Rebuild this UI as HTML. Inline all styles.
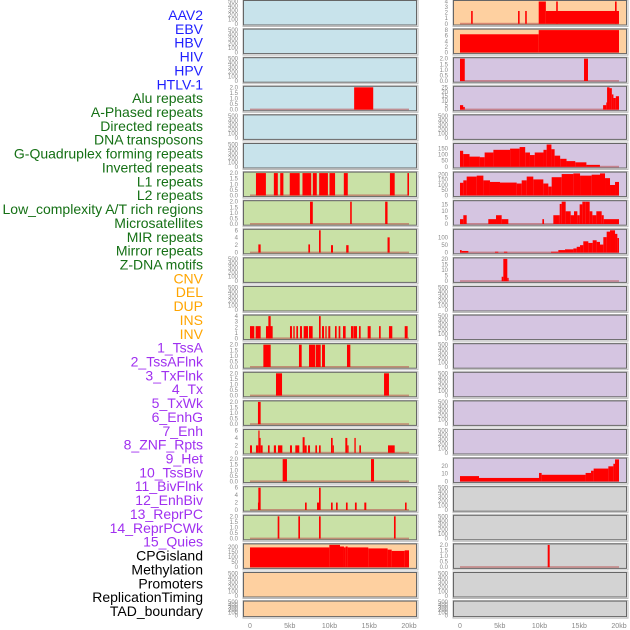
<!DOCTYPE html>
<html><head><meta charset="utf-8"><style>
html,body{margin:0;padding:0;background:#fff;width:630px;height:630px;overflow:hidden}
svg{display:block;font-family:"Liberation Sans",sans-serif}
</style></head><body>
<svg id="chart" width="630" height="630" viewBox="0 0 630 630" xmlns="http://www.w3.org/2000/svg"></svg>
<script>
// ---- data ----
const labels = ["AAV2","EBV","HBV","HIV","HPV","HTLV-1","Alu repeats","A-Phased repeats","Directed repeats","DNA transposons","G-Quadruplex forming repeats","Inverted repeats","L1 repeats","L2 repeats","Low_complexity A/T rich regions","Microsatellites","MIR repeats","Mirror repeats","Z-DNA motifs","CNV","DEL","DUP","INS","INV","1_TssA","2_TssAFlnk","3_TxFlnk","4_Tx","5_TxWk","6_EnhG","7_Enh","8_ZNF_Rpts","9_Het","10_TssBiv","11_BivFlnk","12_EnhBiv","13_ReprPC","14_ReprPCWk","15_Quies","CPGisland","Methylation","Promoters","ReplicationTiming","TAD_boundary"];
const labelGroups = [6,13,5,15,5];
const groupColors = ["#1f1fff","#157015","#ffa500","#a030f0","#000000"];
const xTicks = [0,5,10,15,20];
const xTickLabels = ["0","5kb","10kb","15kb","20kb"];
// panel background per row
const leftBg = ["b","b","b","b","b","b","g","g","g","g","g","g","g","g","g","g","g","g","g","o","o","o"];
const rightBg = ["o","o","p","p","p","p","p","p","p","p","p","p","p","p","p","p","p","x","x","x","x","x"];
// y limits per row
const leftYmax = [500,500,500,2,500,500,2,2,6,500,500,4,2,2,2,6,2,6,2,222,500,500];
const rightYmax = [4,8,2,25,500,184,212,17,150,20,500,500,500,500,500,500,29,500,500,2,500,500];
// tick label sets
const ticks500 = ["0","100","200","300","400","500"];
const ticks2 = ["0.0","0.5","1.0","1.5","2.0"];
const ticks4 = ["0","1","2","3","4"];
const ticks6 = ["0","2","4","6"];
const ticks8 = ["0","2","4","6","8"];
const ticks25 = ["0","5","10","15","20","25"];
const ticks150 = ["0","50","100","150"];
const ticks200 = ["0","50","100","150","200"];
const ticks15 = ["0","5","10","15"];
const ticks100 = ["0","50","100"];
const ticks20 = ["0","5","10","15","20"];
const ticks20b = ["0","10","20"];
const leftTicks = [ticks500,ticks500,ticks500,ticks2,ticks500,ticks500,ticks2,ticks2,ticks6,ticks500,ticks500,ticks4,ticks2,ticks2,ticks2,ticks6,ticks2,ticks6,ticks2,ticks200,ticks500,ticks500];
const rightTicks = [ticks4,ticks8,ticks2,ticks25,ticks500,ticks150,ticks200,ticks15,ticks100,ticks20,ticks500,ticks500,ticks500,ticks500,ticks500,ticks500,ticks20b,ticks500,ticks500,ticks2,ticks500,ticks500];
// segments: [startKb, endKb, value]
const left3 = [[13.1,15.5,2]];
const left6 = [[0.75,2.0,2],[3.0,3.5,2],[3.8,4.2,2],[5.0,6.25,2],[6.6,7.7,2],[7.9,8.4,2],[8.7,9.8,2],[10.0,10.7,2],[11.8,12.3,2],[17.6,18.2,2],[19.8,20.0,2]];
const left7 = [[7.55,7.9,2],[12.6,12.8,2],[17.0,17.3,2]];
const left8 = [[1.05,1.34,2.2],[7.34,7.55,2.2],[8.68,8.89,6],[10.19,10.44,2],[12.1,12.4,2],[17.3,17.57,4.1]];
const left11 = [[0,0.54,2.2],[0.71,1.34,2.2],[2.01,2.85,2.2],[2.31,2.6,4],[5.03,5.28,2.2],[5.45,5.62,2.2],[5.83,6.04,2.2],[6.29,6.54,2.2],[6.75,7.3,2.2],[7.42,7.88,2.2],[8.68,8.89,4],[9.06,9.31,2.2],[9.48,9.64,2.2],[9.85,10.1,2.2],[10.69,10.9,2.2],[11.15,11.36,2.2],[11.7,12.03,2.2],[12.7,13.0,2.2],[13.04,13.46,2.2],[13.71,13.92,2.2],[14.8,15.18,2.2],[16.23,16.44,2.2],[17.48,17.9,2.2],[19.46,19.83,2.2]];
const left12 = [[1.68,2.6,2],[6.16,6.5,2],[7.42,8.18,2],[8.26,8.89,2],[9.06,9.43,2],[12.2,12.62,2]];
const left13 = [[3.27,4.03,2],[16.86,17.48,2]];
const left14 = [[1.0,1.34,2]];
const left15 = [[0,0.25,2],[0.75,1.05,2],[1.05,1.17,6],[1.17,1.34,4],[1.34,1.59,2],[2.26,2.47,2],[3.0,3.27,2],[3.52,4.07,2],[5.03,5.28,2],[5.7,6.2,2],[6.62,6.87,4.2],[6.87,7.13,2],[7.3,7.55,2],[8.22,8.43,2],[8.68,8.89,2],[10.19,10.4,4],[10.4,10.52,2],[11.99,12.24,4],[12.24,12.4,2],[13.13,13.3,4],[13.75,13.96,2],[17.36,18.2,2]];
const left16 = [[4.11,4.65,2],[15.22,15.6,2]];
const left17 = [[1.0,1.05,2],[1.05,1.34,6],[6.92,7.13,2],[8.43,8.68,2],[8.68,8.89,6],[10.19,10.4,2],[10.82,11.03,2],[12.07,12.28,2],[13.2,13.42,2],[14.38,14.63,2],[19.5,19.7,2]];
const left18 = [[3.48,3.69,2],[6.08,6.29,2],[8.68,8.89,2],[18.11,18.32,2]];
const left19 = [[0,9.98,197],[9.98,11.32,222],[11.32,11.82,206],[11.82,12.03,197],[12.03,12.28,206],[12.28,14.88,197],[14.88,17.31,187],[17.31,17.82,175],[17.82,19.46,162],[19.46,20,168]];
const right0 = [[1.4,1.6,2.3],[7.3,7.5,2.3],[8.2,8.4,2.3],[9.9,10.8,4],[10.8,20,2.3],[12.1,12.3,4],[19.5,19.7,4]];
const right1 = [[0,9.9,6.5],[9.9,20,8]];
const right2 = [[0,0.6,2],[15.6,16.1,2]];
const right3 = [[0,0.4,5],[0.4,0.6,3],[18.0,18.4,5],[18.4,18.5,8],[18.5,18.8,25],[18.8,19.1,24],[19.1,19.3,17],[19.3,19.6,13],[19.6,20,15]];
const right5 = [[0,0.4,132],[0.4,1.2,105],[1.2,2.5,84],[2.5,3.1,79],[3.1,4.2,118],[4.2,6.3,140],[6.3,7.5,150],[7.5,8.2,163],[8.2,8.8,118],[8.8,9.4,97],[9.4,10.5,118],[10.5,10.9,140],[10.9,11.5,184],[11.5,11.9,145],[11.9,12.6,92],[12.6,13.4,66],[13.4,14.5,47],[14.5,15.9,37],[15.9,17.6,16]];
const right6 = [[0,0.42,120],[0.42,0.84,143],[0.84,2.1,179],[2.1,2.94,188],[2.94,3.77,143],[3.77,5.03,128],[5.03,7.13,122],[7.13,7.76,113],[7.76,8.39,143],[8.39,9.22,179],[9.22,10.48,152],[10.48,11.11,113],[11.11,11.53,84],[11.53,12.79,173],[12.79,14.26,203],[14.26,15.1,209],[15.1,16.56,188],[16.56,17.61,197],[17.61,18.24,209],[18.24,18.87,164],[18.87,19.5,99],[19.5,20,128]];
const right7 = [[0,0.42,3.7],[0.42,0.84,6.7],[3.56,4.53,3.7],[4.53,5.24,6.7],[5.24,6.08,3.7],[10.36,10.57,3.7],[11.74,12.33,6.7],[12.33,12.54,6.7],[12.54,12.79,15.3],[12.79,13.29,17],[13.29,13.92,9.7],[13.92,14.34,6.7],[14.34,14.76,9.7],[14.76,15.05,6.7],[15.05,15.39,15],[15.39,15.81,17],[15.81,16.31,17],[16.31,16.65,9.7],[16.65,17.15,6.7],[17.15,17.82,9.7],[17.82,18.08,6.7],[18.08,20,3.7]];
const right8 = [[0,0.21,17],[0.21,1.05,11],[4.4,4.82,6],[5.53,5.95,6],[11.45,12.37,6],[12.37,13.21,17],[13.21,14.26,22],[14.26,14.68,28],[14.68,15.1,39],[15.1,15.51,50],[15.51,16.14,76],[16.14,16.69,65],[16.69,17.19,83],[17.19,17.61,72],[17.61,18.03,54],[18.03,18.45,104],[18.45,18.87,141],[18.87,19.5,150],[19.5,19.79,126],[19.79,20,98]];
const right9 = [[5.24,5.45,4],[5.45,5.95,20],[5.95,6.12,3]];
const right16 = [[0,2.39,6.9],[2.39,9.94,4.5],[9.94,10.27,11],[10.27,15.8,8.6],[15.8,16.48,11],[16.48,16.81,13.9],[16.81,18.66,16.7],[18.66,19.29,19.6],[19.29,19.5,22.9],[19.5,20,28.6]];
const right19 = [[11.03,11.28,2]];
const leftData = {3:left3,6:left6,7:left7,8:left8,11:left11,12:left12,13:left13,14:left14,15:left15,16:left16,17:left17,18:left18,19:left19};
const rightData = {0:right0,1:right1,2:right2,3:right3,5:right5,6:right6,7:right7,8:right8,9:right9,16:right16,19:right19};

// ---- drawing ----
const NS = "http://www.w3.org/2000/svg";
const svg = document.getElementById("chart");
const bgColors = {b:"#c8e3eb",g:"#c9e1a6",o:"#fed0a0",p:"#d5c5e1",x:"#d3d3d3"};
function mk(tag, attrs, parent){const e=document.createElementNS(NS,tag);for(const k in attrs)e.setAttribute(k,attrs[k]);(parent||svg).appendChild(e);return e;}

// labels
let li=0;
labelGroups.forEach((n,g)=>{for(let j=0;j<n;j++){
  const t=mk("text",{x:203,y:15+li*13.86+5,"text-anchor":"end","font-size":"14",fill:groupColors[g]});
  
  
  t.textContent=labels[li];li++;}});

const cols=[{x0:243.5,x1:416.5,zero:250,side:"left",bg:leftBg,ym:leftYmax,tk:leftTicks,data:leftData,lx:238},
            {x0:453.5,x1:626.5,zero:460,side:"right",bg:rightBg,ym:rightYmax,tk:rightTicks,data:rightData,lx:448}];
const pxPerKb=7.95;
cols.forEach(c=>{
  const xs=kb=>c.zero+kb*pxPerKb;
  for(let r=0;r<22;r++){
    const top=0.5+28.6*r, h=(r===21?15.5:24.5);
    const g=mk("g",{});
    
    
    mk("rect",{x:c.x0-0.5,y:top-0.5,width:c.x1-c.x0+2,height:h+2,fill:"none",stroke:"#bbb","stroke-width":1},g);
    mk("rect",{x:c.x0,y:top,width:c.x1-c.x0,height:h,fill:bgColors[c.bg[r]],stroke:"#666","stroke-width":1},g);
    const yb=top+h-1.2, yt=top+1, ymax=c.ym[r];
    const ys=v=>yb-(v/ymax)*(yb-yt);
    const tl=c.tk[r];
    tl.forEach((lab,k)=>{
      const v=ymax===500?k*100:parseFloat(lab);
      const t=mk("text",{x:c.lx,y:ys(v)+2,"text-anchor":"end","font-size":"6",fill:"#888"},g);
      
      
      t.textContent=lab;
    });
    const segs=c.data[r];
    if(segs){
      mk("rect",{x:xs(0),y:yb-1,width:xs(20)-xs(0),height:1.6,fill:"#b84a4a","fill-opacity":0.55},g);
      segs.forEach(s=>{
        const b=mk("rect",{x:xs(s[0]),y:ys(s[2]),width:Math.max(1.2,xs(s[1])-xs(s[0])),height:yb-ys(s[2]),fill:"#ff0000"},g);
        
        
      });
    }
  }
  xTicks.forEach((v,k)=>{
    const t=mk("text",{x:xs(v),y:628,"text-anchor":"middle","font-size":"7",fill:"#888"});
    
    
    t.textContent=xTickLabels[k];
  });
});
</script>
</body></html>
